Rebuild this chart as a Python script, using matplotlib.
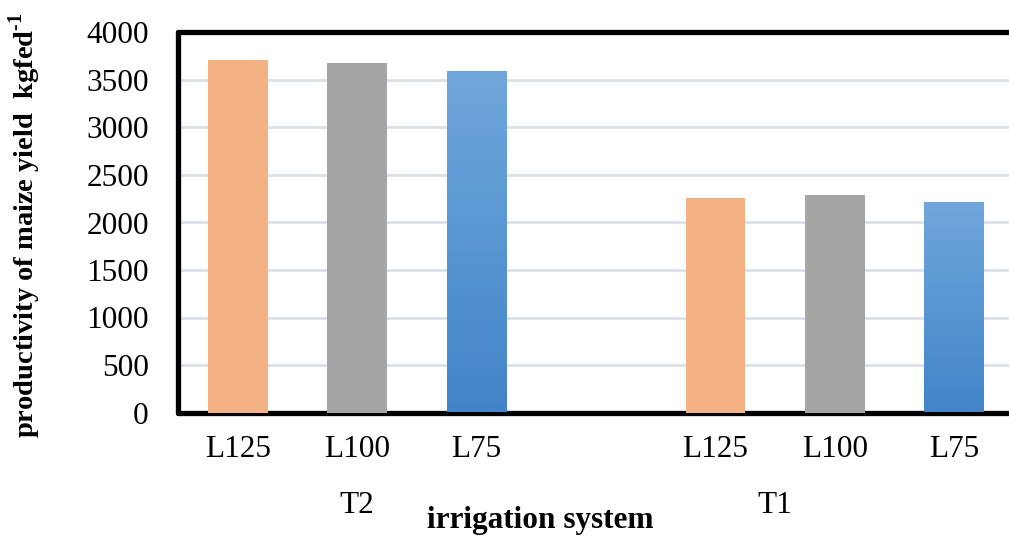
import matplotlib
matplotlib.use("Agg")
import matplotlib.pyplot as plt
import numpy as np
from matplotlib.colors import LinearSegmentedColormap

plt.rcParams["font.family"] = ["Liberation Serif", "DejaVu Serif"]
plt.rcParams["mathtext.fontset"] = "custom"
plt.rcParams["mathtext.rm"] = "Liberation Serif"
plt.rcParams["mathtext.bf"] = "Liberation Serif:bold"

# Yield data: two irrigation systems, three irrigation levels each
levels = ["L125", "L100", "L75"]
systems = ["T2", "T1"]
yield_T2 = [3710, 3675, 3590]
yield_T1 = [2260, 2290, 2215]
yticks = [0, 500, 1000, 1500, 2000, 2500, 3000, 3500, 4000]

colors = ["#f4b183", "#a5a5a5", None]  # None -> blue gradient
blue_top = "#70a7dc"
blue_bottom = "#4185c8"

fig = plt.figure(figsize=(10.09, 5.38), dpi=100)
ax = fig.add_axes([178 / 1009, 1 - 412.5 / 538, (1014 - 178) / 1009, 380 / 538])

positions = [0, 1, 2, 4, 5, 6]
values = yield_T2 + yield_T1
labels = levels + levels
bar_w = 0.5

grad = np.linspace(0, 1, 256).reshape(-1, 1)
cmap = LinearSegmentedColormap.from_list("bluegrad", [blue_bottom, blue_top])

for i, (x, v) in enumerate(zip(positions, values)):
    c = colors[i % 3]
    if c is not None:
        ax.bar(x, v, width=bar_w, color=c, zorder=3)
    else:
        b = ax.bar(x, v, width=bar_w, color="none", zorder=3)[0]
        im = ax.imshow(grad, cmap=cmap, origin="lower", aspect="auto",
                       extent=[x - bar_w / 2, x + bar_w / 2, 0, v], zorder=3)
        im.set_clip_path(b)

ax.set_xlim(-0.5, 6.5)
ax.set_ylim(0, 4000)
ax.set_yticks(yticks)
ax.set_yticklabels([str(t) for t in yticks], fontsize=22.5)
ax.set_xticks(positions)
ax.set_xticklabels(labels, fontsize=22.5)
ax.tick_params(axis="both", length=0)
ax.tick_params(axis="y", pad=21)
ax.tick_params(axis="x", pad=16)

ax.yaxis.grid(True, color="#dce0e8", linewidth=2, zorder=0)
ax.set_axisbelow(True)

for side in ["left", "top", "bottom", "right"]:
    ax.spines[side].set_linewidth(3.8)
    ax.spines[side].set_color("black")
    ax.spines[side].set_capstyle("round")

trans = ax.get_xaxis_transform()
ax.text(1.0, -0.245, systems[0], transform=trans, ha="center", va="center", fontsize=22.5)
ax.text(4.5, -0.245, systems[1], transform=trans, ha="center", va="center", fontsize=22.5)
ax.text(2.53, -0.285, "irrigation system", transform=trans, ha="center", va="center",
        fontsize=22.5, fontweight="bold")

fig.text(25 / 1009, 1 - 225 / 538,
         r"productivity of maize yield  kgfed$^{\mathbf{\text{-}1}}$",
         rotation=90, ha="center", va="center", fontsize=20.5, fontweight="bold")

fig.savefig("out.png", dpi=100)
